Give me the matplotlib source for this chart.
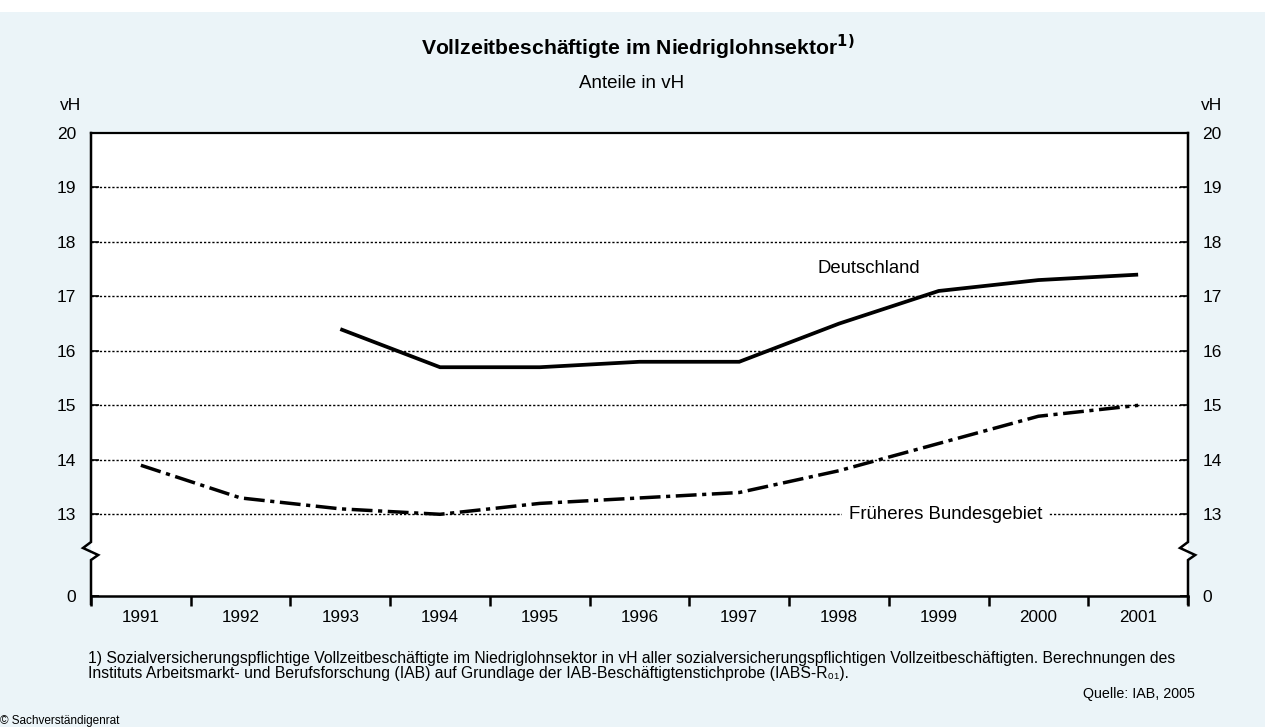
import matplotlib
matplotlib.use("Agg")
import matplotlib.pyplot as plt
from matplotlib.patches import Rectangle

plt.rcParams['font.family'] = ['Liberation Sans', 'DejaVu Sans']

years = ['1991', '1992', '1993', '1994', '1995', '1996', '1997', '1998', '1999', '2000', '2001']
deutschland_years = years[2:]
deutschland = [16.4, 15.7, 15.7, 15.8, 15.8, 16.5, 17.1, 17.3, 17.4]
frueheres_bg = [13.9, 13.3, 13.1, 13.0, 13.2, 13.3, 13.4, 13.8, 14.3, 14.8, 15.0]
ytick_values = [13, 14, 15, 16, 17, 18, 19, 20]
ytick_labels = ['13', '14', '15', '16', '17', '18', '19', '20']
zero_label = '0'

W, H = 1265, 727
fig = plt.figure(figsize=(W / 100, H / 100), dpi=100, facecolor='white')
bg = '#EBF4F8'
fig.patches.append(Rectangle((0, 0), 1, 1 - 12 / H, transform=fig.transFigure,
                             facecolor=bg, edgecolor='none', zorder=-10))

ax = fig.add_axes([91 / W, 1 - 596 / H, (1188 - 91) / W, (596 - 133) / H])
ax.set_facecolor('white')

ybottom = 11.5  # display position of the "0" baseline (axis break)
ax.set_xlim(-0.5, len(years) - 0.5)
ax.set_ylim(ybottom, 20)

x_all = list(range(len(years)))
x_de = [years.index(y) for y in deutschland_years]

# grid lines
for v in ytick_values[:-1]:
    ax.axhline(v, color='black', lw=1.0, ls=(0, (1.6, 1.4)), zorder=1)

ax.plot(x_de, deutschland, color='black', lw=2.7, solid_capstyle='butt',
        solid_joinstyle='miter', zorder=3)
ax.plot(x_all, frueheres_bg, color='black', lw=2.5, dashes=(6, 1.6, 1.2, 1.6),
        dash_capstyle='butt', zorder=3)

# spines
for s in ['left', 'right']:
    ax.spines[s].set_visible(False)
ax.spines['top'].set_linewidth(1.6)
ax.spines['bottom'].set_linewidth(1.8)

# manual left/right spines with break marks
ppu = 463 / 8.5
def ypx(px_from_zero):
    return ybottom + px_from_zero / ppu
b_top = ypx(596 - 542)
b_mid1 = ypx(596 - 548)
b_mid2 = ypx(596 - 555)
b_bot = ypx(596 - 560)
dx = 8 / (1188 - 91)
for x0 in (0.0, 1.0):
    ax.plot([x0, x0, x0 - dx, x0 + dx * 0.9, x0, x0],
            [20, b_top, b_mid1, b_mid2, b_bot, ybottom - 8 / ppu],
            transform=ax.get_yaxis_transform(), color='black', lw=1.8,
            clip_on=False, zorder=5, solid_joinstyle='miter')

# y ticks
ax.set_yticks([ybottom] + ytick_values)
ax.set_yticklabels([zero_label] + ytick_labels)
ax.tick_params(axis='y', which='both', direction='in', length=6, width=1.2,
               left=True, right=True, labelleft=True, labelright=True,
               labelsize=12.5)
ax.tick_params(axis='y', which='both', pad=10.5)

# x ticks: major at boundaries, labels at centers
ax.set_xticks([i - 0.5 for i in range(len(years) + 1)])
ax.set_xticklabels([])
ax.set_xticks(x_all, minor=True)
ax.set_xticklabels(years, minor=True)
ax.tick_params(axis='x', which='major', direction='out', length=7, width=1.8)
ax.tick_params(axis='x', which='minor', length=0, labelsize=12.3, pad=10)

# series labels
ax.text(years.index('1998') + 0.3, 17.52, 'Deutschland', ha='center', va='center',
        fontsize=13.3, zorder=4)
ax.text(years.index('1999') + 0.07, 13.0, 'Früheres Bundesgebiet', ha='center',
        va='center', fontsize=13.4, zorder=4,
        bbox=dict(facecolor='white', edgecolor='none', pad=5))

# titles
fig.text(638 / W, 1 - 47 / H, 'Vollzeitbeschäftigte im Niedriglohnsektor$^{\\mathbf{1)}}$',
         ha='center', va='center', fontsize=15.2, fontweight='bold')
fig.text(632 / W, 1 - 83 / H, 'Anteile in vH', ha='center', va='center', fontsize=13.5)
fig.text(71 / W, 1 - 106 / H, 'vH', ha='center', va='center', fontsize=12.5)
fig.text(1212 / W, 1 - 106 / H, 'vH', ha='center', va='center', fontsize=12.5)

# footnotes
fig.text(88 / W, 1 - 663 / H,
         '1) Sozialversicherungspflichtige Vollzeitbeschäftigte im Niedriglohnsektor in vH aller '
         'sozialversicherungspflichtigen Vollzeitbeschäftigten. Berechnungen des',
         ha='left', va='baseline', fontsize=11.3)
fig.text(88 / W, 1 - 678 / H,
         'Instituts Arbeitsmarkt- und Berufsforschung (IAB) auf Grundlage der '
         'IAB-Beschäftigtenstichprobe (IABS-R₀₁).',
         ha='left', va='baseline', fontsize=11.3)
fig.text(1195 / W, 1 - 698 / H, 'Quelle: IAB, 2005', ha='right', va='baseline', fontsize=10.3)
fig.text(0 / W, 1 - 721 / H, '© Sachverständigenrat', ha='left', va='center', fontsize=8.5)

fig.savefig('out.png', dpi=100, facecolor='white')
